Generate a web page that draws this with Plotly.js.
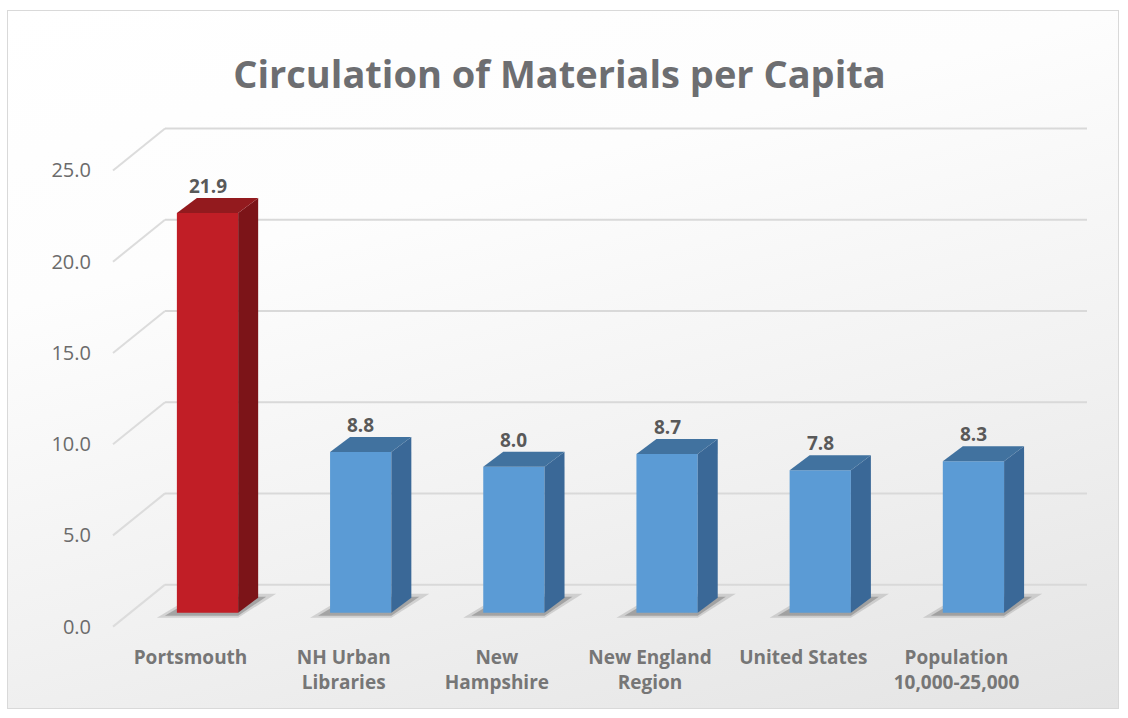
<!DOCTYPE html>
<html>
<head>
<meta charset="utf-8">
<script src="https://cdn.plot.ly/plotly-3.0.1.min.js"></script>
<style>
  html, body { margin: 0; padding: 0; background: #ffffff; }
  #frame {
    position: absolute; left: 7px; top: 10px; width: 1110px; height: 697px;
    border: 1px solid #d9d9d9;
    background: linear-gradient(165deg, #ffffff 0%, #fdfdfd 30%, #f1f1f1 65%, #e4e4e4 100%);
  }
  #chart { position: absolute; left: 0; top: 0; width: 1128px; height: 718px; }
</style>
</head>
<body>
<div id="frame"></div>
<div id="chart"></div>
<script>
// ---- data ----
const categories = ['Portsmouth', 'NH Urban<br>Libraries', 'New<br>Hampshire', 'New England<br>Region', 'United States', 'Population<br>10,000-25,000'];
const values = [21.9, 8.8, 8.0, 8.7, 7.8, 8.3];
const highlighted = [true, false, false, false, false, false];
const yTicks = [0, 5, 10, 15, 20, 25];
const title = 'Circulation of Materials per Capita';

// ---- styling / geometry ----
const W = 1128, H = 718, M = {l: 96, r: 32, t: 120, b: 78};
const XR = [-0.728, 5.8], YR = [-1.5, 27];
const pxX = (W - M.l - M.r) / (XR[1] - XR[0]);
const pxY = (H - M.t - M.b) / (YR[1] - YR[0]);
const dx = p => p / pxX, dy = p => p / pxY;
const BAR_W = 0.4;
const DEPTH = {x: 20, y: 15};
const palette = {
  red:  {front: '#c11e26', side: '#7c1418', top: '#931a1e'},
  blue: {front: '#5b9bd5', side: '#3a6897', top: '#41729f'}
};
const xs = categories.map((c, i) => i);
const faceCol = xs.map(i => highlighted[i] ? palette.red : palette.blue);

const shapes = [];
// back-wall gridlines + side diagonals
const gx0 = dx(165 - 207.5), gx1 = dx(1087 - 207.5), fx = dx(113 - 207.5);
yTicks.forEach(v => {
  shapes.push({type: 'line', xref: 'x', yref: 'y', layer: 'below',
    x0: gx0, x1: gx1, y0: v + dy(28), y1: v + dy(28),
    line: {color: '#d9d9d9', width: 2}});
  shapes.push({type: 'line', xref: 'x', yref: 'y', layer: 'below',
    x0: fx, x1: gx0, y0: v - dy(14), y1: v + dy(28),
    line: {color: '#dcdcdc', width: 2}});
});
// shadows
xs.forEach(i => {
  const xl = i - BAR_W / 2, wpx = BAR_W * pxX;
  const pts = [[-20, -5], [wpx, -5], [wpx + 38, 19], [20, 19]];
  const pts2 = [[-12, -3], [wpx, -3], [wpx + 28, 16], [20, 16]];
  [[pts, 'rgba(70,70,70,0.18)'], [pts2, 'rgba(60,60,60,0.30)']].forEach(([p, c]) => {
    const path = p.map((q, k) => (k ? 'L' : 'M') + (xl + dx(q[0])) + ',' + dy(q[1])).join(' ') + ' Z';
    shapes.push({type: 'path', xref: 'x', yref: 'y', layer: 'below', path: path,
      fillcolor: c, line: {width: 0}});
  });
});
// side and top faces
xs.forEach(i => {
  const v = values[i], xl = i - BAR_W / 2, xr = i + BAR_W / 2;
  const ox = dx(DEPTH.x), oy = dy(DEPTH.y);
  shapes.push({type: 'path', xref: 'x', yref: 'y', layer: 'above',
    path: `M${xr},0 L${xr + ox},${oy} L${xr + ox},${v + oy} L${xr},${v} Z`,
    fillcolor: faceCol[i].side, line: {width: 0}});
  shapes.push({type: 'path', xref: 'x', yref: 'y', layer: 'above',
    path: `M${xl},${v} L${xl + ox},${v + oy} L${xr + ox},${v + oy} L${xr},${v} Z`,
    fillcolor: faceCol[i].top, line: {width: 0}});
});

const annotations = xs.map(i => ({
  x: i, y: values[i], xref: 'x', yref: 'y', text: values[i].toFixed(1),
  showarrow: false, yanchor: 'bottom', yshift: 12,
  font: {family: 'Open Sans', size: 19, color: '#595959', weight: 'bold'}
}));

const trace = {
  type: 'bar', x: xs, y: values, width: BAR_W,
  marker: {color: faceCol.map(c => c.front), line: {width: 0}},
  hoverinfo: 'skip'
};

const layout = {
  width: W, height: H, margin: M,
  paper_bgcolor: 'rgba(0,0,0,0)', plot_bgcolor: 'rgba(0,0,0,0)',
  showlegend: false,
  title: {text: '<b>' + title + '</b>', x: 0.496, xref: 'container', xanchor: 'center',
    y: 1 - 75 / 718, yref: 'container', yanchor: 'middle',
    font: {family: 'Open Sans', size: 38, color: '#6d6e71'}},
  xaxis: {range: XR, tickvals: xs, ticktext: categories.map(c => '<b>' + c + '</b>'),
    showgrid: false, zeroline: false, showline: false, ticks: '',
    ticklabelshift: -17, ticklabelstandoff: 4,
    tickfont: {family: 'Open Sans', size: 19, color: '#767676'}},
  yaxis: {range: YR, tickvals: yTicks, tickformat: '.1f',
    showgrid: false, zeroline: false, showline: false, ticks: '',
    ticklabelshift: 14, ticklabelstandoff: 4,
    tickfont: {family: 'Open Sans', size: 20, color: '#6b6b6b'}},
  shapes: shapes,
  annotations: annotations
};

Plotly.newPlot('chart', [trace], layout, {displayModeBar: false, staticPlot: true});
</script>
</body>
</html>
